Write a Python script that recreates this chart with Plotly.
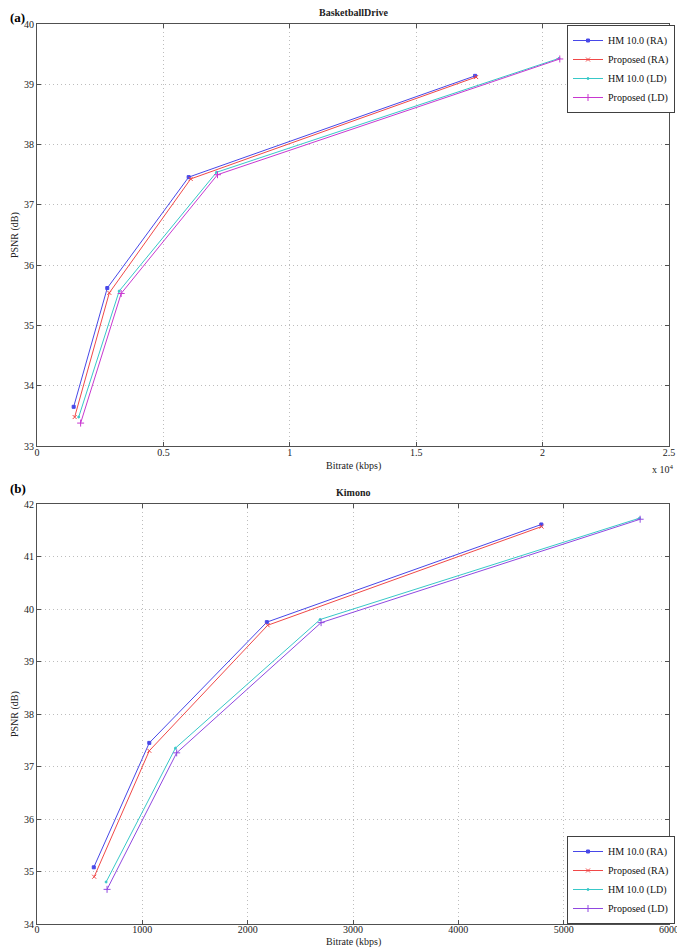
import plotly.graph_objects as go

# ---- Data (a) BasketballDrive ----
bd_hm_ra_rate = [1450, 2780, 6000, 17330]
bd_hm_ra_psnr = [33.65, 35.62, 37.46, 39.14]
bd_pr_ra_rate = [1490, 2860, 6080, 17370]
bd_pr_ra_psnr = [33.48, 35.54, 37.43, 39.12]
bd_hm_ld_rate = [1650, 3250, 7100, 20650]
bd_hm_ld_psnr = [33.48, 35.57, 37.54, 39.43]
bd_pr_ld_rate = [1725, 3330, 7140, 20680]
bd_pr_ld_psnr = [33.38, 35.53, 37.50, 39.42]

# ---- Data (b) Kimono ----
ki_hm_ra_rate = [539, 1066, 2182, 4788]
ki_hm_ra_psnr = [35.08, 37.45, 39.75, 41.61]
ki_pr_ra_rate = [543, 1066, 2190, 4790]
ki_pr_ra_psnr = [34.90, 37.30, 39.69, 41.57]
ki_hm_ld_rate = [656, 1314, 2688, 5720]
ki_hm_ld_psnr = [34.80, 37.35, 39.80, 41.73]
ki_pr_ld_rate = [665, 1326, 2697, 5726]
ki_pr_ld_psnr = [34.66, 37.26, 39.74, 41.71]

series_names = ["HM 10.0 (RA)", "Proposed (RA)", "HM 10.0 (LD)", "Proposed (LD)"]
top_xticks = [0, 5000, 10000, 15000, 20000, 25000]
top_xticktext = ["0", "0.5", "1", "1.5", "2", "2.5"]
bot_xticks = [0, 1000, 2000, 3000, 4000, 5000, 6000]

FONT = "Liberation Serif"
OFF = 8                     # page body margin
W, H = 685 - OFF, 949 - OFF

def py(px):                 # page pixel (from top) -> paper y
    return 1 - (px - OFF) / H

def pxx(px):                # page pixel (from left) -> paper x
    return (px - OFF) / W

fig = go.Figure()

styles_top = [
    dict(color="#4848e8", symbol="square", size=3),
    dict(color="#f04848", symbol="x-thin", size=4),
    dict(color="#38c8c8", symbol="circle", size=2),
    dict(color="#c838d0", symbol="cross-thin", size=5),
]
styles_bot = [
    dict(color="#4848e8", symbol="square", size=3),
    dict(color="#f04848", symbol="x-thin", size=4),
    dict(color="#38c8c8", symbol="circle", size=2),
    dict(color="#9048e0", symbol="cross-thin", size=5),
]

top_data = [(bd_hm_ra_rate, bd_hm_ra_psnr), (bd_pr_ra_rate, bd_pr_ra_psnr),
            (bd_hm_ld_rate, bd_hm_ld_psnr), (bd_pr_ld_rate, bd_pr_ld_psnr)]
bot_data = [(ki_hm_ra_rate, ki_hm_ra_psnr), (ki_pr_ra_rate, ki_pr_ra_psnr),
            (ki_hm_ld_rate, ki_hm_ld_psnr), (ki_pr_ld_rate, ki_pr_ld_psnr)]

for name, (x, y), st in zip(series_names, top_data, styles_top):
    fig.add_trace(go.Scatter(
        x=x, y=y, name=name, mode="lines+markers",
        line=dict(color=st["color"], width=1),
        marker=dict(symbol=st["symbol"], size=st["size"], color=st["color"],
                    line=dict(color=st["color"], width=1)),
        xaxis="x", yaxis="y", legend="legend"))

for name, (x, y), st in zip(series_names, bot_data, styles_bot):
    fig.add_trace(go.Scatter(
        x=x, y=y, name=name, mode="lines+markers",
        line=dict(color=st["color"], width=1),
        marker=dict(symbol=st["symbol"], size=st["size"], color=st["color"],
                    line=dict(color=st["color"], width=1)),
        xaxis="x2", yaxis="y2", legend="legend2"))

axis_common = dict(
    showline=True, linecolor="#505050", linewidth=1, mirror="ticks",
    ticks="inside", ticklen=4, tickcolor="#505050",
    showgrid=True, gridcolor="#bdbdbd", griddash="1px,3px", gridwidth=1,
    zeroline=False, automargin=False, ticklabeloverflow="allow",
    tickfont=dict(family=FONT, size=10, color="#222"),
)

RIGHT = 669
LEG_RIGHT = 675
xdom = [pxx(37), pxx(RIGHT)]
fig.update_layout(
    width=W, height=H,
    margin=dict(l=0, r=0, t=0, b=0, autoexpand=False),
    paper_bgcolor="white", plot_bgcolor="white",
    font=dict(family=FONT, color="#222"),
    xaxis=dict(axis_common, domain=xdom, anchor="y", range=[0, 25000],
               tickvals=top_xticks, ticktext=top_xticktext, ticklabelstandoff=-3),
    yaxis=dict(axis_common, domain=[py(446), py(24)], anchor="x", range=[33, 40], dtick=1),
    xaxis2=dict(axis_common, domain=xdom, anchor="y2", range=[0, 6000],
                tickvals=bot_xticks, ticklabelstandoff=-4),
    yaxis2=dict(axis_common, domain=[py(924), py(504)], anchor="x2", range=[34, 42], dtick=1),
    legend=dict(x=pxx(LEG_RIGHT), y=py(25), xanchor="right", yanchor="top",
                bgcolor="white", bordercolor="#404040", borderwidth=1,
                font=dict(family=FONT, size=10, color="#111"),
                tracegroupgap=0, itemwidth=30),
    legend2=dict(x=pxx(LEG_RIGHT), y=py(924), xanchor="right", yanchor="bottom",
                 bgcolor="white", bordercolor="#404040", borderwidth=1,
                 font=dict(family=FONT, size=10, color="#111"),
                 tracegroupgap=0, itemwidth=30),
    showlegend=True,
)

annotations = [
    dict(text="<b>(a)</b>", x=0, y=1, xref="paper", yref="paper", xanchor="left", yanchor="top",
         showarrow=False, font=dict(family=FONT, size=13, color="black")),
    dict(text="<b>(b)</b>", x=0, y=py(479), xref="paper", yref="paper", xanchor="left", yanchor="top",
         showarrow=False, font=dict(family=FONT, size=13, color="black")),
    dict(text="<b>BasketballDrive</b>", x=pxx(353), y=py(13), xref="paper", yref="paper",
         xanchor="center", yanchor="middle", showarrow=False, font=dict(family=FONT, size=10)),
    dict(text="<b>Kimono</b>", x=pxx(353), y=py(492), xref="paper", yref="paper",
         xanchor="center", yanchor="middle", showarrow=False, font=dict(family=FONT, size=10)),
    dict(text="x 10<sup>4</sup>", x=pxx(676), y=py(469), xref="paper", yref="paper",
         xanchor="right", yanchor="middle", showarrow=False, font=dict(family=FONT, size=10)),
    dict(text="Bitrate (kbps)", x=pxx(353), y=py(466), xref="paper", yref="paper",
         xanchor="center", yanchor="middle", showarrow=False, font=dict(family=FONT, size=10)),
    dict(text="Bitrate (kbps)", x=pxx(353), y=py(942), xref="paper", yref="paper",
         xanchor="center", yanchor="middle", showarrow=False, font=dict(family=FONT, size=10)),
    dict(text="PSNR (dB)", x=pxx(15), y=py(235), xref="paper", yref="paper", textangle=-90,
         xanchor="center", yanchor="middle", showarrow=False, font=dict(family=FONT, size=10)),
    dict(text="PSNR (dB)", x=pxx(15), y=py(714), xref="paper", yref="paper", textangle=-90,
         xanchor="center", yanchor="middle", showarrow=False, font=dict(family=FONT, size=10)),
]
fig.update_layout(annotations=annotations)

fig.write_html("out.html")
